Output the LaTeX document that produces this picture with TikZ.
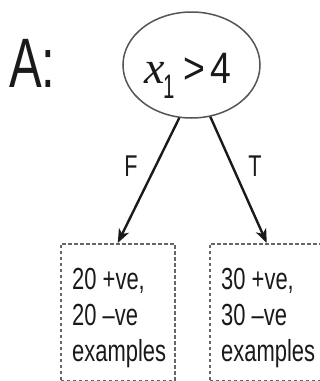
\documentclass[tikz,border=0pt]{standalone}
\usepackage{fontspec}
\setmainfont{Liberation Sans}[FakeStretch=0.72]
\newfontfamily\condA{Liberation Sans}[FakeStretch=0.7]
\newfontfamily\ellsans{Liberation Sans}[FakeStretch=0.85]
\newfontfamily\onefont{Liberation Sans}[FakeStretch=0.6]
\newfontfamily\lserif{Liberation Serif}
\usetikzlibrary{arrows.meta,shapes.geometric}
\definecolor{ink}{HTML}{1A1A1A}
\definecolor{boxgray}{HTML}{666666}
\definecolor{ellgray}{HTML}{555555}
\tikzset{
  dashbox/.style={draw=boxgray, line width=1.5pt, dash pattern=on 3.5pt off 2.5pt,
    minimum width=114pt, minimum height=137pt, inner sep=0pt, anchor=north west},
  boxtext/.style={anchor=north west, inner sep=0pt, align=left, text=ink,
    font=\fontsize{30.5}{36}\selectfont},
  edgelabel/.style={inner sep=0pt, text=ink, font=\fontsize{30}{30}\selectfont},
  branch/.style={draw=ink, line width=2.4pt, -{Stealth[length=14pt, width=11pt, inset=4pt]}},
}
\begin{document}
\begin{tikzpicture}[x=1pt, y=-1pt]
\useasboundingbox (0,0) rectangle (320,381);
% title
\node (title) [anchor=base west, inner sep=0pt, text=ink, font=\condA\fontsize{70}{70}\selectfont] at (9,87) {A:};
% decision ellipse
\node (E) [draw=ellgray, line width=1.5pt, ellipse, minimum width=137pt, minimum height=106pt, inner sep=0pt] at (191.5,65) {};
\node (Et) [anchor=base west, inner sep=0pt, text=ink] at (144,83)
  {{\lserif\itshape\fontsize{46}{46}\selectfont x}\kern-1.5pt\raisebox{-15pt}{\onefont\fontsize{34}{34}\selectfont 1}\kern9pt{\ellsans\fontsize{44}{44}\selectfont >\kern5pt 4}};
% leaf boxes
\node (L) [dashbox] at (60,243) {};
\node (R) [dashbox] at (209,243) {};
\node (Lt) [boxtext] at (72,268) {20 +ve,\\20 –ve\\examples};
\node (Rt) [boxtext] at (221,268) {30 +ve,\\30 –ve\\examples};
% branches
\draw[branch] (E.257) -- (L.north);
\draw[branch] (E.290) -- (R.north);
\node (F) [edgelabel] at (131,166) {F};
\node (T) [edgelabel] at (255,166) {T};
\end{tikzpicture}
\end{document}
